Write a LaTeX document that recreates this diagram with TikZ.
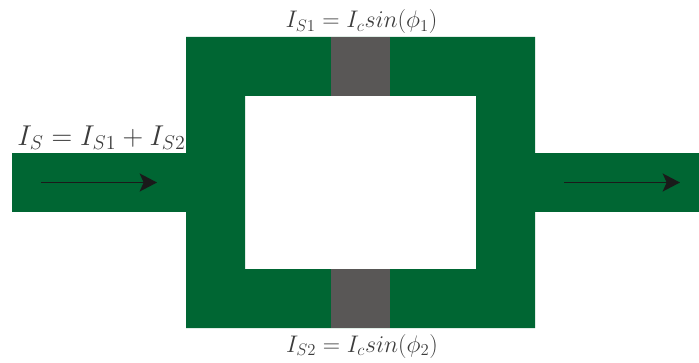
\documentclass[tikz,border=0pt]{standalone}
\usepackage{amsmath}
\usepackage{tikz}
\usetikzlibrary{arrows.meta}
\definecolor{loopgreen}{HTML}{006633}
\definecolor{barrier}{HTML}{595756}
\definecolor{inkdark}{HTML}{1A1A1A}

\begin{document}
\begin{tikzpicture}[>={Stealth[length=13pt,width=13.5pt,inset=3pt]},x=0.75pt,y=-0.75pt,line join=miter]
  \useasboundingbox (0,0) rectangle (699,363);

  %% ---------------- leads and ring ----------
  \fill[loopgreen] (12,153) rectangle (186,212);
  \fill[loopgreen] (535,153) rectangle (699,212);
  \fill[loopgreen,even odd rule] (186,37) rectangle (535,328)
     (245,96) rectangle (476,269);

  %% the two junctions
  \fill[barrier] (331,37) rectangle (390,96);
  \fill[barrier] (331,269) rectangle (390,328);

  %% bias current, in and out
  \coordinate (inA) at (41,182.5);
  \coordinate (inB) at (157,182.5);
  \coordinate (outA) at (564,182.5);
  \coordinate (outB) at (680,182.5);
  \draw[->,inkdark,line width=1.4pt] (inA) -- (inB);
  \draw[->,inkdark,line width=1.4pt] (outA) -- (outB);

  %% labels
  \node[text=inkdark!85,font=\fontsize{20.74}{24}\selectfont,inner sep=0pt,transform shape,scale=1.037] (total) at (101.5,138) {$I_S=I_{S1}+I_{S2}$};
  \node[text=inkdark!85,font=\fontsize{17.28}{20}\selectfont,inner sep=0pt,transform shape,scale=1.042] (upper) at (361.5,22) {$I_{S1}=I_c sin(\phi_1)$};
  \node[text=inkdark!85,font=\fontsize{17.28}{20}\selectfont,inner sep=0pt,transform shape,scale=1.042] (lower) at (362,346) {$I_{S2}=I_c sin(\phi_2)$};
\end{tikzpicture}
\end{document}
